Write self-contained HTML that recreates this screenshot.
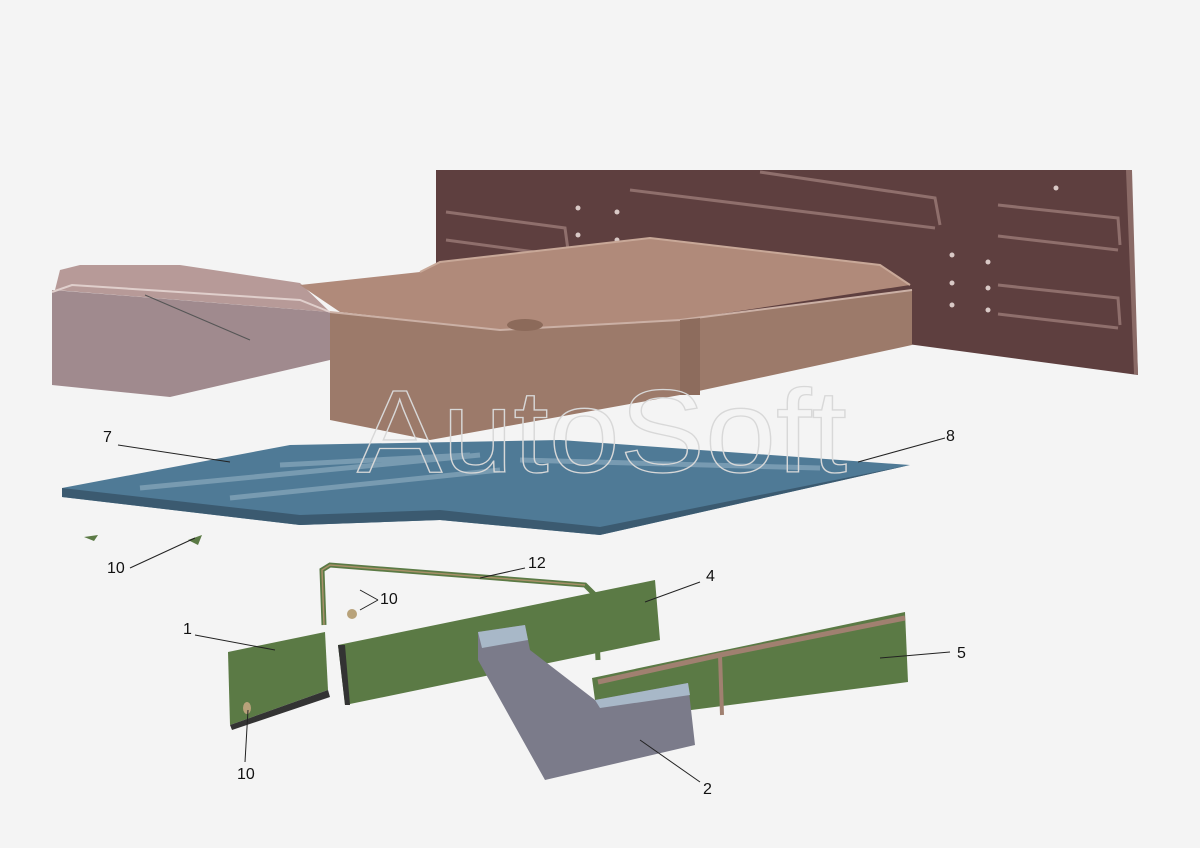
<!DOCTYPE html>
<html><head><meta charset="utf-8"><style>
html,body{margin:0;padding:0;background:#f4f4f4;}
svg{display:block;}
text{font-family:"Liberation Sans",sans-serif;}
</style></head><body>
<svg width="1200" height="848" viewBox="0 0 1200 848" xmlns="http://www.w3.org/2000/svg">
<rect width="1200" height="848" fill="#f4f4f4"/>
<polygon points="436,170 1130,170 1138,375 915,345 436,290" fill="#5e3f3f"/>
<polygon points="1126,170 1132,170 1138,375 1134,374" fill="#8a6a66"/>
<g stroke="#8f6f6c" stroke-width="3" fill="none">
<polyline points="446,212 565,228 568,250"/>
<line x1="446" y1="240" x2="565" y2="256"/>
<line x1="630" y1="190" x2="935" y2="228"/>
<polyline points="760,172 935,198 940,225"/>
<polyline points="998,205 1118,218 1120,245"/>
<line x1="998" y1="236" x2="1118" y2="250"/>
<polyline points="998,285 1118,298 1120,325"/>
<line x1="998" y1="314" x2="1118" y2="328"/>
</g>
<g fill="#d9c9c6">
<circle cx="578" cy="208" r="2.5"/><circle cx="578" cy="235" r="2.5"/><circle cx="617" cy="212" r="2.5"/>
<circle cx="617" cy="240" r="2.5"/><circle cx="1056" cy="188" r="2.5"/><circle cx="952" cy="255" r="2.5"/>
<circle cx="988" cy="262" r="2.5"/><circle cx="952" cy="283" r="2.5"/><circle cx="988" cy="288" r="2.5"/>
<circle cx="952" cy="305" r="2.5"/><circle cx="988" cy="310" r="2.5"/>
</g>
<polygon points="52,290 330,312 330,360 170,397 52,385" fill="#a08a8e"/>
<polygon points="60,270 80,265 180,265 300,283 330,312 55,290" fill="#b79a98"/>
<polyline points="52,292 72,285 300,300 330,312" fill="none" stroke="#e0cfcc" stroke-width="2"/>
<line x1="145" y1="295" x2="250" y2="340" stroke="#555" stroke-width="1"/>
<polygon points="330,312 500,330 680,320 912,290 912,345 680,395 430,440 330,420" fill="#9c7a6a"/>
<polygon points="300,285 420,272 440,262 650,238 880,265 910,285 680,320 500,330 340,312" fill="#b08a7a"/>
<polyline points="330,312 500,330 680,320 912,290" fill="none" stroke="#cbb0a5" stroke-width="2"/>
<polyline points="420,272 440,262 650,238 880,265 910,285" fill="none" stroke="#c8a898" stroke-width="2"/>
<polygon points="680,320 700,318 700,395 680,395" fill="#8d6c5d"/>
<ellipse cx="525" cy="325" rx="18" ry="6" fill="#8c6a5a"/>
<polygon points="62,488 290,445 560,440 910,465 600,535 440,520 300,525 62,497" fill="#4f7a96"/>
<polygon points="62,488 300,515 440,510 600,527 910,465 600,535 440,520 300,525 62,497" fill="#3b5a70"/>
<g stroke="#8aa9bd" stroke-width="5" fill="none" opacity="0.7">
<line x1="140" y1="488" x2="480" y2="455"/>
<line x1="230" y1="498" x2="500" y2="470"/>
<line x1="280" y1="465" x2="470" y2="455"/>
<line x1="520" y1="460" x2="820" y2="468"/>
</g>
<text x="357" y="472" font-size="118" textLength="490" lengthAdjust="spacingAndGlyphs" fill="none" stroke="#d8d8d8" stroke-width="1.3">AutoSoft</text>
<polygon points="84,537 98,535 94,541" fill="#5b7a45"/>
<polygon points="188,540 202,535 198,545" fill="#5b7a45"/>
<polyline points="324,625 322,570 330,565 585,585 595,595 598,660" fill="none" stroke="#5b7a45" stroke-width="5"/>
<polyline points="324,625 322,570 330,565 585,585" fill="none" stroke="#a89068" stroke-width="1.5"/>
<circle cx="352" cy="614" r="5" fill="#b8a27a"/>
<polygon points="228,652 325,632 328,690 230,725" fill="#5b7a45"/>
<polygon points="230,725 328,690 330,697 232,730" fill="#333"/>
<ellipse cx="247" cy="708" rx="4" ry="6" fill="#b8a27a"/>
<polygon points="338,645 655,580 660,640 345,705" fill="#5b7a45"/>
<polygon points="338,645 345,645 350,705 345,705" fill="#333"/>
<polygon points="592,678 905,612 908,682 598,722" fill="#5b7a45"/>
<polyline points="598,682 720,655 905,618" fill="none" stroke="#a08070" stroke-width="5"/>
<line x1="720" y1="655" x2="722" y2="715" stroke="#a08070" stroke-width="4"/>
<polygon points="478,632 525,625 530,650 595,700 688,683 695,745 545,780 478,660" fill="#7b7b8a"/>
<polygon points="478,632 525,625 528,640 482,648" fill="#a8b8c8"/>
<polygon points="595,700 688,683 690,695 600,708" fill="#a8b8c8"/>
<g stroke="#222" stroke-width="1">
<line x1="118" y1="445" x2="230" y2="462"/>
<line x1="858" y1="462" x2="945" y2="438"/>
<line x1="130" y1="568" x2="195" y2="538"/>
<line x1="525" y1="568" x2="480" y2="578"/>
<line x1="360" y1="590" x2="378" y2="600"/>
<line x1="360" y1="610" x2="378" y2="600"/>
<line x1="195" y1="635" x2="275" y2="650"/>
<line x1="645" y1="602" x2="700" y2="582"/>
<line x1="880" y1="658" x2="950" y2="652"/>
<line x1="640" y1="740" x2="700" y2="782"/>
<line x1="245" y1="762" x2="248" y2="710"/>
</g>
<g font-size="16" fill="#111">
<text x="103" y="442">7</text>
<text x="946" y="441">8</text>
<text x="107" y="573">10</text>
<text x="528" y="568">12</text>
<text x="380" y="604">10</text>
<text x="183" y="634">1</text>
<text x="706" y="581">4</text>
<text x="957" y="658">5</text>
<text x="703" y="794">2</text>
<text x="237" y="779">10</text>
</g>
</svg>
</body></html>
